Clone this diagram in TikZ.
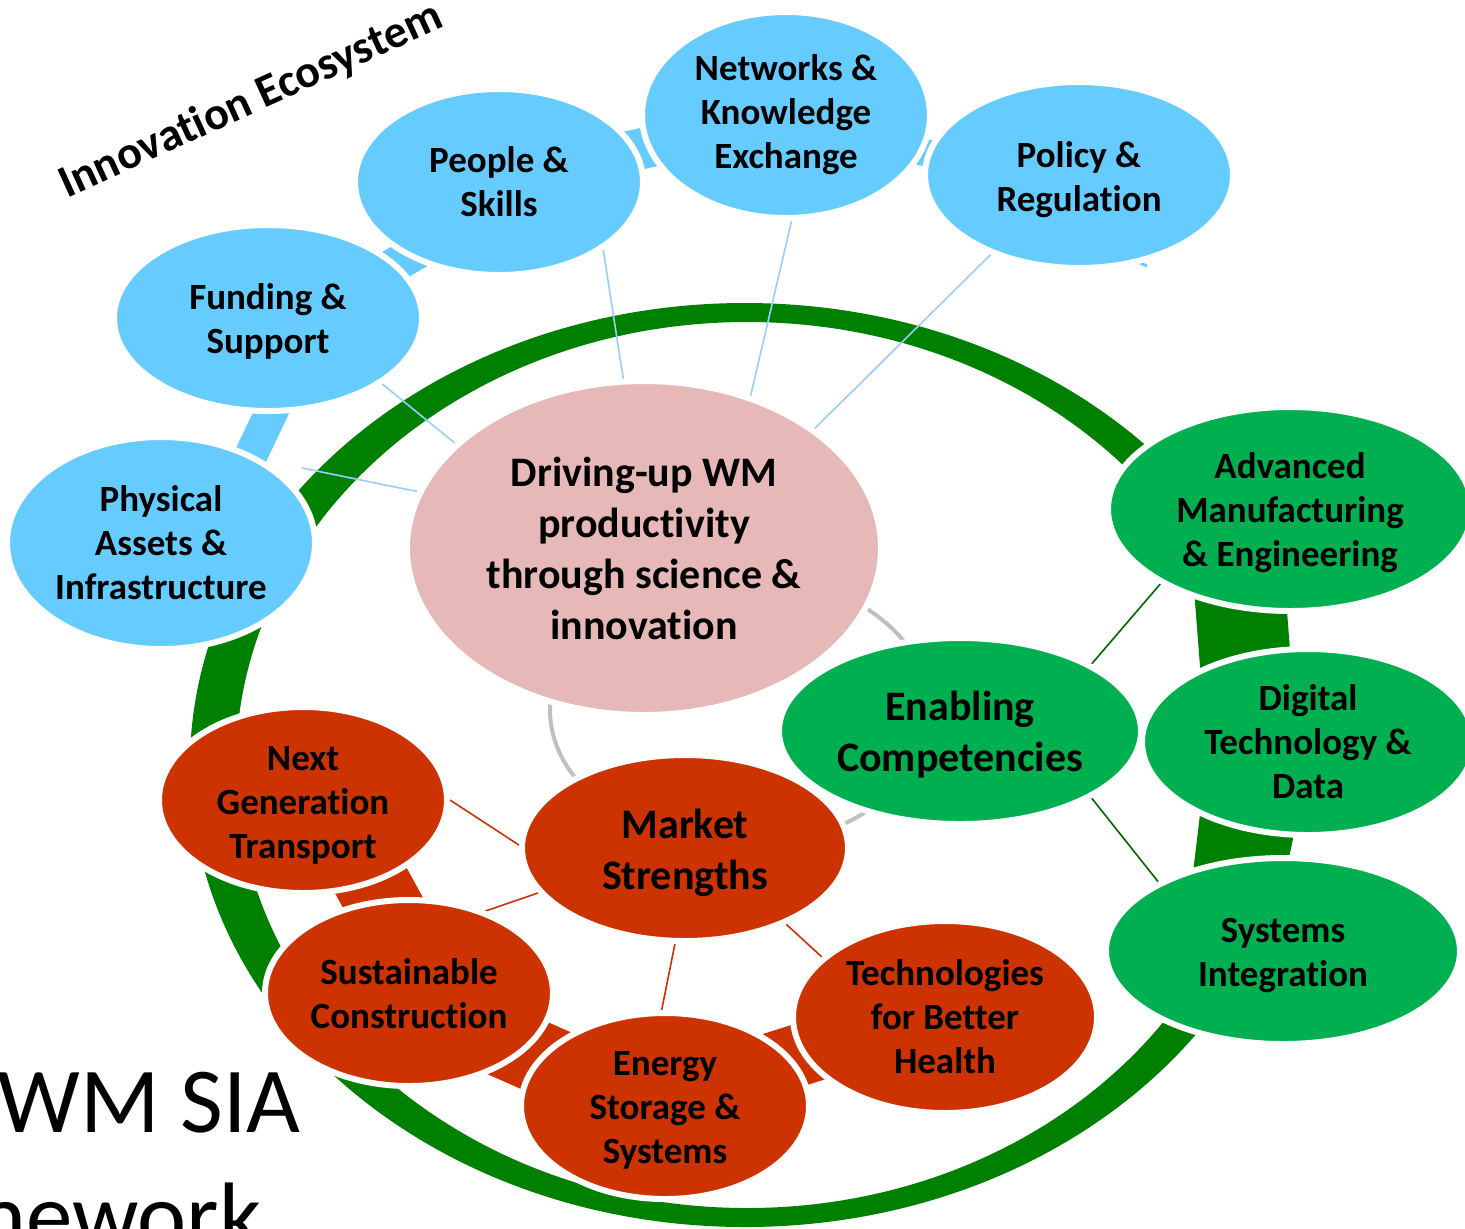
\documentclass[tikz,border=0pt]{standalone}
\usepackage{fontspec}
\setmainfont{Carlito}[Ligatures=NoCommon]
\usetikzlibrary{shapes.geometric,backgrounds}
\definecolor{nblue}{HTML}{66CCFF}
\definecolor{bspokec}{HTML}{99CCFF}
\definecolor{npink}{HTML}{E6B9B8}
\definecolor{ngreen}{HTML}{00B050}
\definecolor{nring}{HTML}{008000}
\definecolor{nred}{HTML}{CC3300}
\definecolor{ngrey}{HTML}{BFBFBF}
\definecolor{gspokec}{HTML}{006600}
\begin{document}
\begin{tikzpicture}[x=0.5pt,y=-0.5pt,
  bub/.style={ellipse, draw=white, line width=3pt, inner sep=0pt},
  bluebub/.style={bub, fill=nblue},
  greenbub/.style={bub, fill=ngreen},
  redbub/.style={bub, fill=nred},
  lab/.style={align=center, inner sep=0pt, font=\fontsize{18.5}{22}\selectfont\bfseries},
  biglab/.style={lab, font=\fontsize{21}{25.5}\selectfont\bfseries},
  bspoke/.style={draw=bspokec, line width=0.8pt},
  rspoke/.style={draw=nred, line width=0.8pt},
  gspoke/.style={draw=gspokec, line width=0.8pt},
  bband/.style={draw=nblue},
  rband/.style={draw=nred},
  gband/.style={draw=nring}]
\useasboundingbox (0,0) rectangle (1465,1228);

% ---- node shapes ----
\node[bluebub, minimum width=154pt, minimum height=106pt] (physical) at (161,543) {};
\node[bluebub, minimum width=154pt, minimum height=93pt] (funding) at (268,318) {};
\node[bluebub, minimum width=144pt, minimum height=93pt] (people) at (499,182) {};
\node[bluebub, minimum width=154pt, minimum height=93pt] (policy) at (1079,175) {};
\node[bluebub, minimum width=144pt, minimum height=103pt] (networks) at (786,115) {};
\node[bub, fill=npink, minimum width=237pt, minimum height=167pt] (hub) at (644,548) {};
\node[greenbub, minimum width=182pt, minimum height=102pt] (advanced) at (1290,509) {};
\node[greenbub, minimum width=166pt, minimum height=93pt] (digital) at (1308,742) {};
\node[greenbub, minimum width=177pt, minimum height=93pt] (systems) at (1283,951) {};
\node[greenbub, minimum width=181pt, minimum height=93pt] (enabling) at (960,731) {};
\node[redbub, minimum width=144pt, minimum height=93pt] (nextgen) at (303,800) {};
\node[redbub, minimum width=144pt, minimum height=93pt] (sust) at (409,993) {};
\node[redbub, minimum width=152pt, minimum height=96pt] (tech) at (945,1017) {};
\node[redbub, minimum width=144pt, minimum height=93pt] (energy) at (665,1106) {};
\node[redbub, minimum width=163pt, minimum height=93pt] (market) at (685,848) {};

% ---- node texts ----
\node[lab] (physical-t) at (physical.center) {Physical\\Assets \&\\Infrastructure};
\node[lab] (funding-t) at ([shift={(0,3)}]funding.center) {Funding \&\\Support};
\node[lab] (people-t) at (people.center) {People \&\\Skills};
\node[lab] (policy-t) at ([shift={(0,5)}]policy.center) {Policy \&\\Regulation};
\node[lab] (networks-t) at (networks.center) {Networks \&\\Knowledge\\Exchange};
\node[biglab] (hub-t) at (hub.center) {Driving-up WM\\productivity\\through science \&\\innovation};
\node[lab] (advanced-t) at ([shift={(0,4)}]advanced.center) {Advanced\\Manufacturing\\\& Engineering};
\node[lab] (digital-t) at (digital.center) {Digital\\Technology \&\\Data};
\node[lab] (systems-t) at ([shift={(0,4)}]systems.center) {Systems\\Integration};
\node[biglab] (enabling-t) at ([shift={(0,4)}]enabling.center) {Enabling\\Competencies};
\node[lab] (nextgen-t) at ([shift={(0,5)}]nextgen.center) {Next\\Generation\\Transport};
\node[lab] (sust-t) at ([shift={(0,1)}]sust.center) {Sustainable\\Construction};
\node[lab] (tech-t) at (tech.center) {Technologies\\for Better\\Health};
\node[lab] (energy-t) at ([shift={(0,4)}]energy.center) {Energy\\Storage \&\\Systems};
\node[biglab] (market-t) at ([shift={(0,5)}]market.center) {Market\\Strengths};

% ---- free texts ----
\node[rotate=24.5, inner sep=0pt, font=\fontsize{23}{27}\selectfont\bfseries] (eco) at (251,101) {Innovation Ecosystem};
\begin{scope}
\clip (0,0) rectangle (1465,1228);
\node[anchor=base west, inner sep=0pt, font=\fontsize{46.5}{56}\selectfont] (sia) at (-3,1132) {WM SIA};
\node[anchor=base east, inner sep=0pt, font=\fontsize{46.5}{56}\selectfont] (fw) at (262,1247) {Framework};
\end{scope}

% ---- background: ring, arcs, bands, spokes ----
\begin{pgfonlayer}{background}
\fill[nring, even odd rule] (745,765) ellipse [x radius=555, y radius=462]
                            (747,765) ellipse [x radius=511, y radius=443];
\draw[ngrey, line width=2pt] (740,710) ellipse [x radius=190, y radius=136];

% blue cluster bands
\draw[bband, line width=16.5pt] ([shift={(39.3,18.7)}]physical.center) -- ([shift={(39.3,18.7)}]funding.center);
\draw[bband, line width=17.5pt] ([shift={(9.4,16)}]funding.center) -- ([shift={(9.4,16)}]people.center);
\draw[bband, line width=20.5pt] (people.center) -- (networks.center);
\draw[bband, line width=13.5pt] ([shift={(-1.8,8.8)}]networks.center) -- ([shift={(-1.8,8.8)}]policy.center);
\coordinate (bdA) at (1138,262);
\coordinate (bdB) at (1147,266);
\draw[bband, line width=1.5pt] (bdA) -- (bdB);

% red cluster bands
\draw[rband, line width=37.5pt] ([shift={(18.1,-10)}]nextgen.center) -- ([shift={(18.1,-10)}]sust.center);
\draw[rband, line width=36pt] ([shift={(-2.7,6)}]sust.center) -- ([shift={(-2.7,6)}]energy.center);
\draw[rband, line width=31pt] ([shift={(-2.4,-7.6)}]energy.center) -- ([shift={(-2.4,-7.6)}]tech.center);

% green cluster bands
\draw[gband, line width=45.5pt] ([shift={(-56.2,4.3)}]advanced.center) -- ([shift={(-56.2,4.3)}]digital.center);
\draw[gband, line width=46.5pt] ([shift={(-51.8,-6.2)}]digital.center) -- ([shift={(-51.8,-6.2)}]systems.center);

% spokes
\coordinate (pfree) at (302,468);
\draw[bspoke] (funding.-30.6) -- (hub.151.5);
\draw[bspoke] (people.-33.6) -- (hub.97.9);
\draw[bspoke] (networks.-87.8) -- (hub.55.8);
\draw[bspoke] (policy.-138) -- (hub.35.4);
\draw[bspoke] (pfree) -- (hub.166.4);

\draw[rspoke] (nextgen.-0.8) -- (market.179);
\draw[rspoke] (sust.47.5) -- (market.-163);
\draw[rspoke] (energy.92.7) -- (market.-96);
\draw[rspoke] (tech.154.4) -- (market.-37.6);

\draw[gspoke] (enabling.27.6) -- (advanced.-150);
\draw[gspoke] (enabling.-27.6) -- (systems.151.5);
\end{pgfonlayer}
\end{tikzpicture}
\end{document}
